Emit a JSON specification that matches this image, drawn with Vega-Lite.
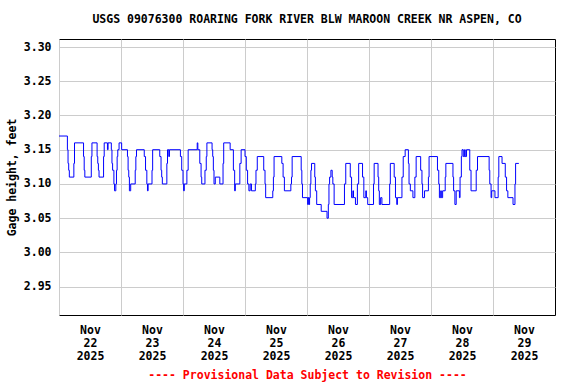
{
  "$schema": "https://vega.github.io/schema/vega-lite/v6.json",
  "width": 496,
  "height": 276,
  "autosize": "none",
  "padding": {"left": 59, "top": 39, "right": 21, "bottom": 69},
  "background": "white",
  "config": {
    "font": "DejaVu Sans Mono",
    "view": {"stroke": "black", "strokeWidth": 1}
  },
  "title": {
    "text": "USGS 09076300 ROARING FORK RIVER BLW MAROON CREEK NR ASPEN, CO",
    "font": "DejaVu Sans Mono",
    "fontSize": 11.5,
    "fontWeight": "bold",
    "color": "black",
    "anchor": "middle",
    "offset": 14
  },
  "data": {
    "values": [
      {"t": "2025-11-22T00:00", "v": 3.17},
      {"t": "2025-11-22T03:15", "v": 3.15},
      {"t": "2025-11-22T03:30", "v": 3.13},
      {"t": "2025-11-22T03:45", "v": 3.12},
      {"t": "2025-11-22T04:00", "v": 3.11},
      {"t": "2025-11-22T05:45", "v": 3.13},
      {"t": "2025-11-22T06:00", "v": 3.16},
      {"t": "2025-11-22T09:30", "v": 3.14},
      {"t": "2025-11-22T09:45", "v": 3.12},
      {"t": "2025-11-22T10:00", "v": 3.11},
      {"t": "2025-11-22T12:30", "v": 3.14},
      {"t": "2025-11-22T12:45", "v": 3.16},
      {"t": "2025-11-22T14:45", "v": 3.14},
      {"t": "2025-11-22T15:00", "v": 3.13},
      {"t": "2025-11-22T15:15", "v": 3.12},
      {"t": "2025-11-22T15:30", "v": 3.11},
      {"t": "2025-11-22T17:15", "v": 3.14},
      {"t": "2025-11-22T17:30", "v": 3.16},
      {"t": "2025-11-22T18:45", "v": 3.15},
      {"t": "2025-11-22T19:00", "v": 3.16},
      {"t": "2025-11-22T20:15", "v": 3.15},
      {"t": "2025-11-22T20:30", "v": 3.13},
      {"t": "2025-11-22T20:45", "v": 3.12},
      {"t": "2025-11-22T21:15", "v": 3.10},
      {"t": "2025-11-22T21:30", "v": 3.09},
      {"t": "2025-11-22T22:00", "v": 3.10},
      {"t": "2025-11-22T22:15", "v": 3.12},
      {"t": "2025-11-22T22:30", "v": 3.14},
      {"t": "2025-11-22T22:45", "v": 3.15},
      {"t": "2025-11-22T23:15", "v": 3.16},
      {"t": "2025-11-23T00:15", "v": 3.15},
      {"t": "2025-11-23T02:30", "v": 3.14},
      {"t": "2025-11-23T02:45", "v": 3.12},
      {"t": "2025-11-23T03:00", "v": 3.11},
      {"t": "2025-11-23T03:15", "v": 3.09},
      {"t": "2025-11-23T03:45", "v": 3.10},
      {"t": "2025-11-23T05:30", "v": 3.12},
      {"t": "2025-11-23T05:45", "v": 3.14},
      {"t": "2025-11-23T06:00", "v": 3.15},
      {"t": "2025-11-23T09:00", "v": 3.14},
      {"t": "2025-11-23T09:30", "v": 3.12},
      {"t": "2025-11-23T10:00", "v": 3.10},
      {"t": "2025-11-23T10:15", "v": 3.09},
      {"t": "2025-11-23T10:30", "v": 3.10},
      {"t": "2025-11-23T12:00", "v": 3.12},
      {"t": "2025-11-23T12:15", "v": 3.15},
      {"t": "2025-11-23T15:00", "v": 3.14},
      {"t": "2025-11-23T15:30", "v": 3.12},
      {"t": "2025-11-23T15:45", "v": 3.11},
      {"t": "2025-11-23T16:00", "v": 3.10},
      {"t": "2025-11-23T17:45", "v": 3.13},
      {"t": "2025-11-23T18:00", "v": 3.15},
      {"t": "2025-11-23T18:30", "v": 3.14},
      {"t": "2025-11-23T18:45", "v": 3.15},
      {"t": "2025-11-23T23:00", "v": 3.14},
      {"t": "2025-11-23T23:30", "v": 3.12},
      {"t": "2025-11-24T00:00", "v": 3.10},
      {"t": "2025-11-24T00:15", "v": 3.09},
      {"t": "2025-11-24T00:30", "v": 3.10},
      {"t": "2025-11-24T01:30", "v": 3.12},
      {"t": "2025-11-24T02:00", "v": 3.15},
      {"t": "2025-11-24T05:30", "v": 3.16},
      {"t": "2025-11-24T05:45", "v": 3.15},
      {"t": "2025-11-24T06:30", "v": 3.13},
      {"t": "2025-11-24T07:00", "v": 3.11},
      {"t": "2025-11-24T07:15", "v": 3.10},
      {"t": "2025-11-24T08:30", "v": 3.12},
      {"t": "2025-11-24T09:00", "v": 3.14},
      {"t": "2025-11-24T09:15", "v": 3.16},
      {"t": "2025-11-24T11:15", "v": 3.15},
      {"t": "2025-11-24T11:30", "v": 3.14},
      {"t": "2025-11-24T11:45", "v": 3.12},
      {"t": "2025-11-24T12:00", "v": 3.10},
      {"t": "2025-11-24T12:30", "v": 3.11},
      {"t": "2025-11-24T14:15", "v": 3.10},
      {"t": "2025-11-24T15:30", "v": 3.13},
      {"t": "2025-11-24T15:45", "v": 3.16},
      {"t": "2025-11-24T18:15", "v": 3.15},
      {"t": "2025-11-24T19:30", "v": 3.12},
      {"t": "2025-11-24T20:00", "v": 3.09},
      {"t": "2025-11-24T20:15", "v": 3.10},
      {"t": "2025-11-24T22:00", "v": 3.13},
      {"t": "2025-11-24T22:30", "v": 3.15},
      {"t": "2025-11-25T00:00", "v": 3.14},
      {"t": "2025-11-25T00:30", "v": 3.12},
      {"t": "2025-11-25T01:00", "v": 3.10},
      {"t": "2025-11-25T01:30", "v": 3.09},
      {"t": "2025-11-25T02:00", "v": 3.10},
      {"t": "2025-11-25T02:30", "v": 3.09},
      {"t": "2025-11-25T04:00", "v": 3.10},
      {"t": "2025-11-25T04:15", "v": 3.12},
      {"t": "2025-11-25T04:45", "v": 3.14},
      {"t": "2025-11-25T07:15", "v": 3.12},
      {"t": "2025-11-25T07:45", "v": 3.10},
      {"t": "2025-11-25T08:00", "v": 3.08},
      {"t": "2025-11-25T10:45", "v": 3.09},
      {"t": "2025-11-25T11:00", "v": 3.11},
      {"t": "2025-11-25T11:15", "v": 3.14},
      {"t": "2025-11-25T14:15", "v": 3.13},
      {"t": "2025-11-25T14:45", "v": 3.11},
      {"t": "2025-11-25T15:15", "v": 3.09},
      {"t": "2025-11-25T17:45", "v": 3.10},
      {"t": "2025-11-25T18:00", "v": 3.11},
      {"t": "2025-11-25T18:15", "v": 3.14},
      {"t": "2025-11-25T21:45", "v": 3.12},
      {"t": "2025-11-25T22:00", "v": 3.10},
      {"t": "2025-11-25T22:15", "v": 3.08},
      {"t": "2025-11-26T00:15", "v": 3.07},
      {"t": "2025-11-26T00:30", "v": 3.08},
      {"t": "2025-11-26T00:45", "v": 3.07},
      {"t": "2025-11-26T01:00", "v": 3.08},
      {"t": "2025-11-26T01:15", "v": 3.10},
      {"t": "2025-11-26T01:30", "v": 3.12},
      {"t": "2025-11-26T01:45", "v": 3.13},
      {"t": "2025-11-26T03:00", "v": 3.11},
      {"t": "2025-11-26T03:15", "v": 3.09},
      {"t": "2025-11-26T03:45", "v": 3.07},
      {"t": "2025-11-26T05:30", "v": 3.06},
      {"t": "2025-11-26T07:45", "v": 3.05},
      {"t": "2025-11-26T08:15", "v": 3.07},
      {"t": "2025-11-26T08:30", "v": 3.10},
      {"t": "2025-11-26T08:45", "v": 3.11},
      {"t": "2025-11-26T09:15", "v": 3.12},
      {"t": "2025-11-26T09:45", "v": 3.11},
      {"t": "2025-11-26T10:00", "v": 3.10},
      {"t": "2025-11-26T10:30", "v": 3.07},
      {"t": "2025-11-26T14:30", "v": 3.10},
      {"t": "2025-11-26T15:00", "v": 3.13},
      {"t": "2025-11-26T16:45", "v": 3.11},
      {"t": "2025-11-26T17:15", "v": 3.08},
      {"t": "2025-11-26T17:45", "v": 3.09},
      {"t": "2025-11-26T18:00", "v": 3.08},
      {"t": "2025-11-26T18:45", "v": 3.07},
      {"t": "2025-11-26T19:30", "v": 3.10},
      {"t": "2025-11-26T20:00", "v": 3.13},
      {"t": "2025-11-26T21:30", "v": 3.11},
      {"t": "2025-11-26T22:00", "v": 3.08},
      {"t": "2025-11-26T22:45", "v": 3.09},
      {"t": "2025-11-26T23:00", "v": 3.08},
      {"t": "2025-11-26T23:30", "v": 3.07},
      {"t": "2025-11-27T01:45", "v": 3.10},
      {"t": "2025-11-27T02:00", "v": 3.13},
      {"t": "2025-11-27T03:30", "v": 3.11},
      {"t": "2025-11-27T03:45", "v": 3.09},
      {"t": "2025-11-27T04:00", "v": 3.07},
      {"t": "2025-11-27T04:30", "v": 3.08},
      {"t": "2025-11-27T05:00", "v": 3.07},
      {"t": "2025-11-27T08:00", "v": 3.10},
      {"t": "2025-11-27T08:15", "v": 3.13},
      {"t": "2025-11-27T09:45", "v": 3.11},
      {"t": "2025-11-27T10:15", "v": 3.08},
      {"t": "2025-11-27T10:45", "v": 3.07},
      {"t": "2025-11-27T11:00", "v": 3.08},
      {"t": "2025-11-27T12:45", "v": 3.11},
      {"t": "2025-11-27T13:15", "v": 3.14},
      {"t": "2025-11-27T14:00", "v": 3.15},
      {"t": "2025-11-27T15:15", "v": 3.13},
      {"t": "2025-11-27T15:30", "v": 3.10},
      {"t": "2025-11-27T16:00", "v": 3.09},
      {"t": "2025-11-27T17:00", "v": 3.08},
      {"t": "2025-11-27T17:45", "v": 3.11},
      {"t": "2025-11-27T18:15", "v": 3.14},
      {"t": "2025-11-27T20:00", "v": 3.12},
      {"t": "2025-11-27T20:30", "v": 3.10},
      {"t": "2025-11-27T20:45", "v": 3.08},
      {"t": "2025-11-27T21:30", "v": 3.09},
      {"t": "2025-11-27T23:00", "v": 3.11},
      {"t": "2025-11-27T23:15", "v": 3.14},
      {"t": "2025-11-28T02:30", "v": 3.12},
      {"t": "2025-11-28T03:00", "v": 3.10},
      {"t": "2025-11-28T03:15", "v": 3.08},
      {"t": "2025-11-28T03:45", "v": 3.09},
      {"t": "2025-11-28T04:00", "v": 3.08},
      {"t": "2025-11-28T04:30", "v": 3.09},
      {"t": "2025-11-28T05:30", "v": 3.11},
      {"t": "2025-11-28T05:45", "v": 3.13},
      {"t": "2025-11-28T08:30", "v": 3.11},
      {"t": "2025-11-28T08:45", "v": 3.09},
      {"t": "2025-11-28T09:15", "v": 3.07},
      {"t": "2025-11-28T09:45", "v": 3.09},
      {"t": "2025-11-28T11:00", "v": 3.08},
      {"t": "2025-11-28T11:15", "v": 3.11},
      {"t": "2025-11-28T11:45", "v": 3.14},
      {"t": "2025-11-28T12:00", "v": 3.15},
      {"t": "2025-11-28T12:30", "v": 3.14},
      {"t": "2025-11-28T13:00", "v": 3.15},
      {"t": "2025-11-28T13:15", "v": 3.14},
      {"t": "2025-11-28T13:45", "v": 3.15},
      {"t": "2025-11-28T15:00", "v": 3.12},
      {"t": "2025-11-28T15:30", "v": 3.09},
      {"t": "2025-11-28T17:30", "v": 3.12},
      {"t": "2025-11-28T18:00", "v": 3.14},
      {"t": "2025-11-28T22:30", "v": 3.12},
      {"t": "2025-11-28T22:45", "v": 3.10},
      {"t": "2025-11-28T23:15", "v": 3.08},
      {"t": "2025-11-28T23:30", "v": 3.09},
      {"t": "2025-11-29T00:45", "v": 3.08},
      {"t": "2025-11-29T02:00", "v": 3.11},
      {"t": "2025-11-29T02:15", "v": 3.14},
      {"t": "2025-11-29T03:30", "v": 3.13},
      {"t": "2025-11-29T04:45", "v": 3.11},
      {"t": "2025-11-29T05:15", "v": 3.09},
      {"t": "2025-11-29T05:45", "v": 3.08},
      {"t": "2025-11-29T07:45", "v": 3.07},
      {"t": "2025-11-29T08:30", "v": 3.10},
      {"t": "2025-11-29T08:45", "v": 3.13},
      {"t": "2025-11-29T10:00", "v": 3.13}
    ]
  },
  "mark": {"type": "line", "interpolate": "step-after", "color": "#0000ff", "strokeWidth": 1},
  "encoding": {
    "x": {
      "field": "t",
      "type": "temporal",
      "scale": {
        "domain": [
          {"year": 2025, "month": 11, "date": 22},
          {"year": 2025, "month": 11, "date": 30}
        ]
      },
      "axis": {
        "values": [
          {"year": 2025, "month": 11, "date": 22},
          {"year": 2025, "month": 11, "date": 23},
          {"year": 2025, "month": 11, "date": 24},
          {"year": 2025, "month": 11, "date": 25},
          {"year": 2025, "month": 11, "date": 26},
          {"year": 2025, "month": 11, "date": 27},
          {"year": 2025, "month": 11, "date": 28},
          {"year": 2025, "month": 11, "date": 29}
        ],
        "labelExpr": "[timeFormat(datum.value, '%b'), timeFormat(datum.value, '%d'), timeFormat(datum.value, '%Y')]",
        "labelOffset": 31,
        "labelFlush": false,
        "labelOverlap": false,
        "labelFont": "DejaVu Sans Mono",
        "labelFontSize": 11.5,
        "labelFontWeight": "bold",
        "labelColor": "black",
        "labelPadding": 9,
        "labelLineHeight": 13,
        "ticks": false,
        "domain": false,
        "grid": true,
        "gridColor": "#cccccc",
        "gridWidth": 1,
        "title": "---- Provisional Data Subject to Revision ----",
        "titleFont": "DejaVu Sans Mono",
        "titleFontSize": 11.5,
        "titleFontWeight": "bold",
        "titleColor": "#ff0000",
        "titlePadding": 8
      }
    },
    "y": {
      "field": "v",
      "type": "quantitative",
      "scale": {"domain": [2.9086, 3.3117], "zero": false, "nice": false},
      "axis": {
        "values": [2.95, 3.0, 3.05, 3.1, 3.15, 3.2, 3.25, 3.3],
        "format": ".2f",
        "labelFont": "DejaVu Sans Mono",
        "labelFontSize": 11.5,
        "labelFontWeight": "bold",
        "labelColor": "black",
        "labelPadding": 8,
        "ticks": false,
        "domain": false,
        "grid": true,
        "gridColor": "#cccccc",
        "gridWidth": 1,
        "title": "Gage height, feet",
        "titleFont": "DejaVu Sans Mono",
        "titleFontSize": 11.5,
        "titleFontWeight": "bold",
        "titleColor": "black",
        "titlePadding": 6
      }
    }
  }
}
